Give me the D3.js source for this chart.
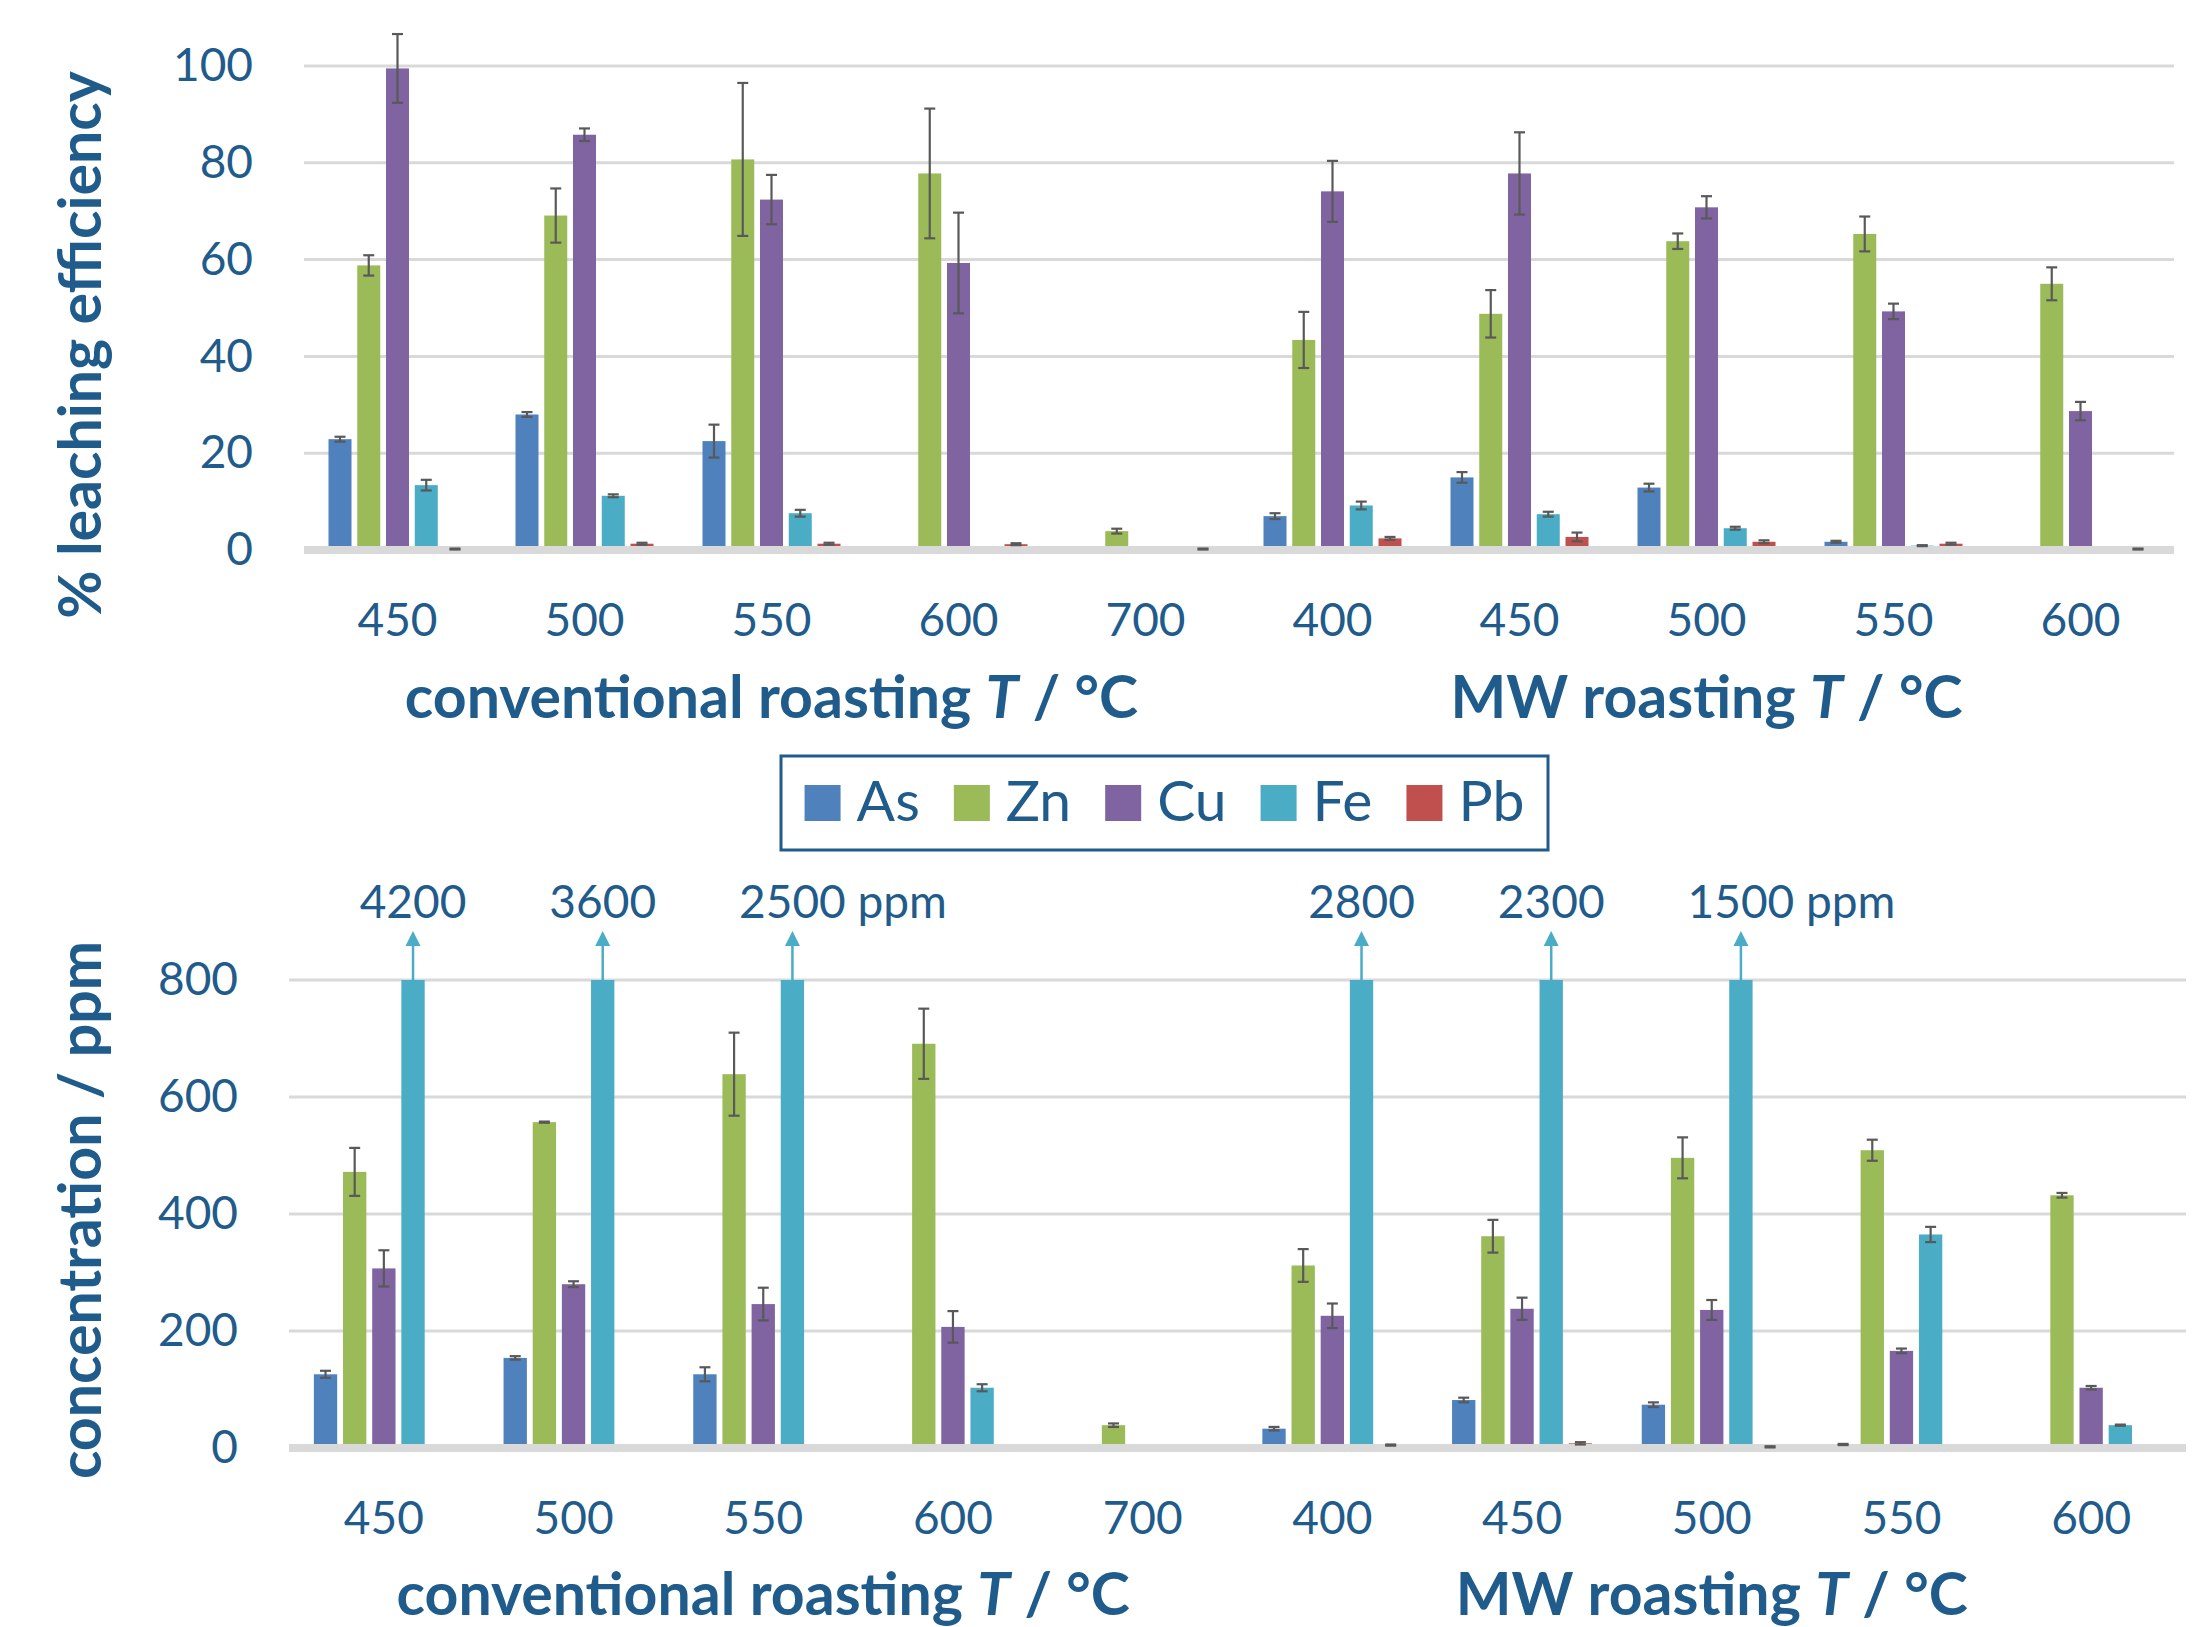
<!DOCTYPE html>
<html>
<head>
<meta charset="utf-8">
<script src="https://cdn.jsdelivr.net/npm/d3@7"></script>
<style>
  body { margin: 0; background: #fff; }
  svg { display: block; font-family: Lato, "Open Sans", sans-serif; }
</style>
</head>
<body>
<svg id="chart" width="2196" height="1627"></svg>
<script>
// roasting temperatures, first five conventional, last five microwave
const categories = ["450", "500", "550", "600", "700", "400", "450", "500", "550", "600"];
const groups = [
  { name: "conventional roasting", from: 0, to: 4 },
  { name: "MW roasting", from: 5, to: 9 }
];
const elements = ["As", "Zn", "Cu", "Fe", "Pb"];
const colors = ["#4f81bd", "#9bbb59", "#8064a2", "#4bacc6", "#c0504d"];

// % leaching efficiency
const leachAs = [22.9, 28.0, 22.5, 0, 0, 7.0, 15.0, 12.9, 1.7, 0];
const leachZn = [58.8, 69.1, 80.7, 77.8, 3.9, 43.4, 48.8, 63.8, 65.3, 55.0];
const leachCu = [99.5, 85.8, 72.4, 59.3, 0, 74.1, 77.8, 70.8, 49.3, 28.7];
const leachFe = [13.4, 11.2, 7.6, 0, 0, 9.2, 7.4, 4.5, 0.9, 0];
const leachPb = [0.2, 1.3, 1.3, 1.2, 0.2, 2.4, 2.7, 1.7, 1.3, 0.2];
const leachAsErr = [0.5, 0.5, 3.4, 0, 0, 0.6, 1.1, 0.8, 0.2, 0];
const leachZnErr = [2.1, 5.6, 15.8, 13.4, 0.5, 5.8, 4.9, 1.6, 3.6, 3.4];
const leachCuErr = [7.1, 1.3, 5.1, 10.4, 0, 6.3, 8.5, 2.3, 1.6, 1.9];
const leachFeErr = [1.1, 0.3, 0.7, 0, 0, 0.8, 0.5, 0.3, 0.1, 0];
const leachPbErr = [0.1, 0.2, 0.2, 0.2, 0.1, 0.3, 0.9, 0.3, 0.2, 0.1];

// concentration / ppm
const concAs = [126, 154, 126, 0, 0, 33, 82, 74, 6, 0];
const concZn = [472, 557, 639, 691, 39, 312, 362, 496, 509, 432];
const concCu = [307, 280, 246, 207, 0, 226, 238, 236, 166, 103];
const concFe = [4200, 3600, 2500, 103, 0, 2800, 2300, 1500, 365, 39];
const concPb = [0, 1, 1, 1, 0, 5, 8, 2, 1, 0];
const concAsErr = [6, 3, 12, 0, 0, 3, 4, 4, 1, 0];
const concZnErr = [41, 1, 71, 60, 3, 28, 28, 35, 18, 4];
const concCuErr = [31, 5, 28, 27, 0, 21, 19, 17, 4, 3];
const concFeErr = [0, 0, 0, 6, 0, 0, 0, 0, 13, 1];
const concPbErr = [0, 0, 0, 0, 0, 1, 2, 1, 0, 0];

const leachTicks = [0, 20, 40, 60, 80, 100];
const concTicks = [0, 200, 400, 600, 800];

const textColor = "#1f5b8b";
const gridColor = "#d9d9d9";
const errColor = "#595959";
const tickFont = 46;
const titleFont = 59;

const svg = d3.select("#chart");
svg.append("rect").attr("width", 2196).attr("height", 1627).attr("fill", "#fff");

function drawPanel(p) {
  const g = svg.append("g");
  const x0 = d3.scaleBand()
    .domain(d3.range(categories.length))
    .range(p.xRange)
    .paddingInner(0.262)
    .paddingOuter(0.131);
  const x1 = d3.scaleBand()
    .domain(elements)
    .range([0, x0.bandwidth()])
    .paddingInner(0.2);
  const y = d3.scaleLinear().domain([0, p.yMax]).range(p.yRange);

  // gridlines
  g.append("g").selectAll("line")
    .data(p.ticks.filter(t => t > 0))
    .join("line")
    .attr("x1", p.xRange[0]).attr("x2", p.xRange[1])
    .attr("y1", d => y(d)).attr("y2", d => y(d))
    .attr("stroke", gridColor).attr("stroke-width", 3);

  // y tick labels
  const yAxis = g.append("g")
    .attr("transform", `translate(${p.xRange[0]},0)`)
    .call(d3.axisLeft(y).tickValues(p.ticks).tickSize(0).tickPadding(51));
  yAxis.select(".domain").remove();
  yAxis.attr("font-family", null).attr("font-size", tickFont);
  yAxis.selectAll("text").attr("fill", textColor);

  const data = [];
  categories.forEach((c, i) => {
    elements.forEach((el, k) => {
      data.push({ i, el, color: colors[k], v: p.values[k][i], e: p.errors[k][i] });
    });
  });

  // bars
  g.append("g").selectAll("rect")
    .data(data.filter(d => d.v > 0))
    .join("rect")
    .attr("x", d => x0(d.i) + x1(d.el))
    .attr("width", x1.bandwidth())
    .attr("y", d => y(Math.min(d.v, p.yMax)))
    .attr("height", d => y(0) - y(Math.min(d.v, p.yMax)))
    .attr("fill", d => d.color);

  // zero axis band
  g.append("line")
    .attr("x1", p.xRange[0]).attr("x2", p.xRange[1])
    .attr("y1", y(0)).attr("y2", y(0))
    .attr("stroke", gridColor).attr("stroke-width", 8);

  // error bars
  const eb = g.append("g").attr("stroke", errColor).attr("stroke-width", 2.2);
  data.filter(d => d.v > 0 && d.v <= p.yMax && d.e > 0).forEach(d => {
    const cx = x0(d.i) + x1(d.el) + x1.bandwidth() / 2;
    eb.append("line").attr("x1", cx).attr("x2", cx)
      .attr("y1", y(d.v - d.e)).attr("y2", y(d.v + d.e));
    [d.v - d.e, d.v + d.e].forEach(v => {
      eb.append("line").attr("x1", cx - 5.5).attr("x2", cx + 5.5)
        .attr("y1", y(v)).attr("y2", y(v));
    });
  });

  // off-scale bars: arrow and value label
  const over = data.filter(d => d.v > p.yMax);
  over.forEach(d => {
    const cx = x0(d.i) + x1(d.el) + x1.bandwidth() / 2;
    const top = y(p.yMax);
    g.append("line").attr("x1", cx).attr("x2", cx)
      .attr("y1", top).attr("y2", top - 36)
      .attr("stroke", d.color).attr("stroke-width", 2.5);
    g.append("path")
      .attr("d", `M${cx - 7.5},${top - 34}L${cx},${top - 49}L${cx + 7.5},${top - 34}Z`)
      .attr("fill", d.color);
    const grp = groups.find(gr => d.i >= gr.from && d.i <= gr.to);
    const lastInGroup = d3.max(over.filter(o => o.i >= grp.from && o.i <= grp.to), o => o.i) === d.i;
    const t = g.append("text")
      .attr("y", top - 62)
      .attr("font-size", tickFont)
      .attr("fill", textColor);
    const num = t.append("tspan").text(d3.format("d")(d.v));
    const w = num.node().getComputedTextLength();
    t.attr("x", cx - w / 2);
    if (lastInGroup) t.append("tspan").text(" ppm");
  });

  // x tick labels
  const xAxis = g.append("g")
    .attr("transform", `translate(0,${y(0)})`)
    .call(d3.axisBottom(x0).tickFormat(i => categories[i]).tickSize(0).tickPadding(53));
  xAxis.select(".domain").remove();
  xAxis.attr("font-family", null).attr("font-size", tickFont);
  xAxis.selectAll("text").attr("fill", textColor);

  // group titles
  groups.forEach(gr => {
    const cx = (x0(gr.from) + x0(gr.to) + x0.bandwidth()) / 2;
    const t = g.append("text")
      .attr("x", cx).attr("y", p.titleY)
      .attr("text-anchor", "middle")
      .attr("font-size", titleFont).attr("font-weight", 700)
      .attr("fill", textColor);
    t.append("tspan").text(gr.name + " ");
    t.append("tspan").attr("font-style", "italic").text("T");
    t.append("tspan").text(" / °C");
  });

  // y title
  g.append("text")
    .attr("transform", `translate(101,${p.yTitleY}) rotate(-90)`)
    .attr("text-anchor", "middle")
    .attr("font-size", titleFont).attr("font-weight", 700)
    .attr("fill", textColor)
    .text(p.yTitle);
}

drawPanel({
  xRange: [304, 2174], yRange: [550, 66], yMax: 100, ticks: leachTicks,
  values: [leachAs, leachZn, leachCu, leachFe, leachPb],
  errors: [leachAsErr, leachZnErr, leachCuErr, leachFeErr, leachPbErr],
  titleY: 718, yTitle: "% leaching efficiency", yTitleY: 345
});

drawPanel({
  xRange: [289, 2186], yRange: [1448, 980], yMax: 800, ticks: concTicks,
  values: [concAs, concZn, concCu, concFe, concPb],
  errors: [concAsErr, concZnErr, concCuErr, concFeErr, concPbErr],
  titleY: 1615, yTitle: "concentration / ppm", yTitleY: 1210
});

// legend
const legend = svg.append("g");
legend.append("rect")
  .attr("x", 781).attr("y", 756).attr("width", 767).attr("height", 94)
  .attr("fill", "none").attr("stroke", textColor).attr("stroke-width", 3);
const items = legend.append("g");
let lx = 0;
elements.forEach((el, k) => {
  const it = items.append("g").attr("transform", `translate(${lx},0)`);
  it.append("rect").attr("x", 0).attr("y", 785).attr("width", 36).attr("height", 36).attr("fill", colors[k]);
  const t = it.append("text").attr("x", 52).attr("y", 821)
    .attr("font-size", 57).attr("fill", textColor).text(el);
  lx += 52 + t.node().getComputedTextLength() + 34;
});
const itemsW = lx - 34;
items.attr("transform", `translate(${781 + (767 - itemsW) / 2},0)`);
</script>
</body>
</html>
